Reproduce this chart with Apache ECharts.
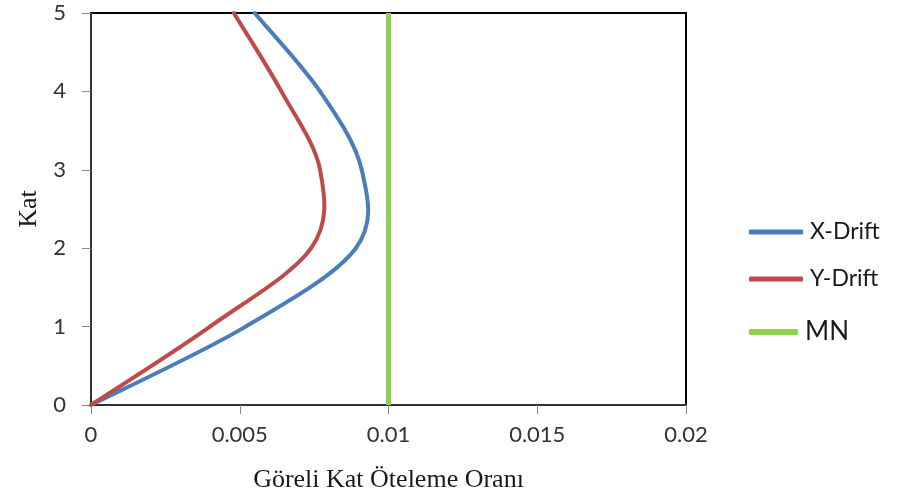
<!DOCTYPE html>
<html>
<head>
<meta charset="utf-8">
<script src="https://cdn.jsdelivr.net/npm/echarts@6/dist/echarts.min.js"></script>
<style>
  html, body { margin: 0; padding: 0; background: #fff; }
  #chart { width: 899px; height: 498px; }
</style>
</head>
<body>
<div id="chart"></div>
<script>
// Storey levels and inter-storey drift ratios
const floors = [0, 1, 2, 3, 4, 5];
const xDrift = [0, 0.0052, 0.0089, 0.0091, 0.0077, 0.0055];
const yDrift = [0, 0.0040, 0.0074, 0.0077, 0.0064, 0.0048];
// Limit line (MN) drawn at a constant drift ratio
const mnLimit = 0.01;
const mnFloors = [0, 5];
const xTicks = [0, 0.005, 0.01, 0.015, 0.02];
const yTicks = [0, 1, 2, 3, 4, 5];

const colors = { x: '#4A7EBB', y: '#BE4B48', mn: '#92D050' };

const pairs = (xs, ys) => xs.map((v, i) => [v, ys[i]]);

const labelFont = 'Lato, "Open Sans", sans-serif';
const nameFont = '"Liberation Serif", "DejaVu Serif", serif';

// Smoothed drift curve: each segment is a cubic Bezier whose control points
// follow the neighbouring points (Catmull-Rom style), placed in pixel space
// through the chart's own coordinate system.
function smoothCurve(name, xs, color) {
  const pts = pairs(xs, floors);
  const last = pts.length - 1;
  const k = 1 / 6;
  return {
    name: name,
    type: 'custom',
    data: pts,
    encode: { x: 0, y: 1 },
    z: 3,
    itemStyle: { color: color },
    renderItem: function (params, api) {
      const i = params.dataIndex;
      if (i >= last) return null;
      const P = j => api.coord(pts[Math.max(0, Math.min(last, j))]);
      const p0 = P(i - 1), p1 = P(i), p2 = P(i + 1), p3 = P(i + 2);
      return {
        type: 'bezierCurve',
        shape: {
          x1: p1[0], y1: p1[1],
          x2: p2[0], y2: p2[1],
          cpx1: p1[0] + (p2[0] - p0[0]) * k,
          cpy1: p1[1] + (p2[1] - p0[1]) * k,
          cpx2: p2[0] - (p3[0] - p1[0]) * k,
          cpy2: p2[1] - (p3[1] - p1[1]) * k
        },
        style: { stroke: color, lineWidth: 4, fill: null, lineCap: 'round' }
      };
    }
  };
}

function legendItem(name, color, top, fontSize, width, height) {
  return {
    show: true,
    left: 749,
    top: top,
    padding: 0,
    itemWidth: width,
    itemHeight: height,
    itemGap: 0,
    data: [{ name: name, icon: 'roundRect', itemStyle: { color: color } }],
    textStyle: { fontFamily: labelFont, fontSize: fontSize, color: '#1a1a1a', lineHeight: 26, padding: [0, 0, 0, 2] }
  };
}

const chart = echarts.init(document.getElementById('chart'), null, { renderer: 'canvas' });

chart.setOption({
  animation: false,
  backgroundColor: '#fff',
  grid: {
    left: 91, right: 213, top: 13, bottom: 92,
    show: true, borderColor: '#000', borderWidth: 2, backgroundColor: 'transparent'
  },
  legend: [
    legendItem('X-Drift', colors.x, 219, 23, 54, 5),
    legendItem('Y-Drift', colors.y, 266, 23, 54, 5),
    legendItem('MN', colors.mn, 319, 26, 49, 6)
  ],
  xAxis: {
    type: 'value',
    min: xTicks[0], max: xTicks[xTicks.length - 1], interval: xTicks[1] - xTicks[0],
    name: 'Göreli Kat Öteleme Oranı',
    nameLocation: 'middle',
    nameGap: 62,
    nameTextStyle: { fontFamily: nameFont, fontSize: 26, color: '#1a1a1a' },
    axisLine: { show: true, lineStyle: { color: '#333', width: 2 } },
    axisTick: { show: true, inside: false, length: 9, lineStyle: { color: '#888', width: 1 } },
    axisLabel: { fontFamily: labelFont, fontSize: 22, color: '#333', margin: 19 },
    splitLine: { show: false }
  },
  yAxis: {
    type: 'value',
    min: yTicks[0], max: yTicks[yTicks.length - 1], interval: yTicks[1] - yTicks[0],
    name: 'Kat',
    nameLocation: 'middle',
    nameRotate: 90,
    nameGap: 48,
    nameTextStyle: { fontFamily: nameFont, fontSize: 26, color: '#1a1a1a' },
    axisLine: { show: true, lineStyle: { color: '#333', width: 2 } },
    axisTick: { show: true, inside: false, length: 9, lineStyle: { color: '#888', width: 1 } },
    axisLabel: { fontFamily: labelFont, fontSize: 22, color: '#333', margin: 25 },
    splitLine: { show: false }
  },
  series: [
    smoothCurve('X-Drift', xDrift, colors.x),
    smoothCurve('Y-Drift', yDrift, colors.y),
    {
      name: 'MN', type: 'line', data: mnFloors.map(f => [mnLimit, f]),
      showSymbol: false, symbol: 'none',
      lineStyle: { color: colors.mn, width: 5 }, itemStyle: { color: colors.mn }, z: 2
    }
  ]
});
</script>
</body>
</html>
